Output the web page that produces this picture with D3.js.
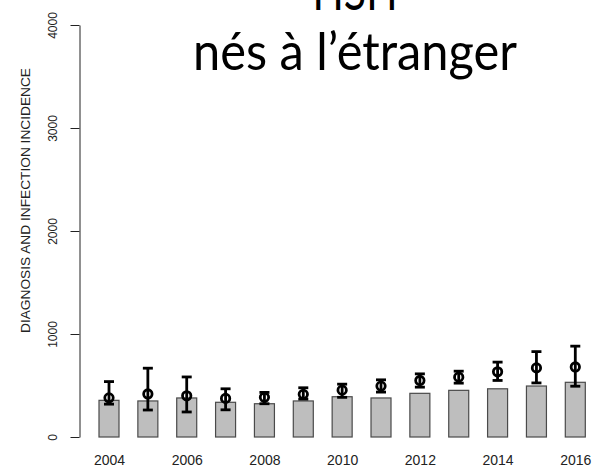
<!DOCTYPE html>
<html>
<head>
<meta charset="utf-8">
<script src="https://cdn.jsdelivr.net/npm/d3@7"></script>
<style>
  html, body { margin: 0; padding: 0; background: #fff; }
  svg { display: block; }
</style>
</head>
<body>
<svg id="chart" width="595" height="469"></svg>
<script>
const years = [2004, 2005, 2006, 2007, 2008, 2009, 2010, 2011, 2012, 2013, 2014, 2015, 2016];
const diagnoses = [356, 350, 379, 337, 323, 350, 391, 379, 424, 453, 468, 495, 531];
const incidence = [380, 418, 400, 375, 385, 414, 455, 494, 549, 581, 633, 671, 680];
const lower = [319, 262, 243, 264, 323, 368, 385, 436, 484, 523, 549, 525, 493];
const upper = [538, 668, 583, 468, 433, 478, 513, 555, 613, 639, 727, 829, 882];
const yTicks = [0, 1000, 2000, 3000, 4000];
const xTickLabels = [2004, 2006, 2008, 2010, 2012, 2014, 2016];
const titleLines = ["HSH", "nés à l’étranger"];
const yTitle = "DIAGNOSIS AND INFECTION INCIDENCE";

const svg = d3.select("#chart");
const x = d3.scaleLinear().domain([2004, 2016]).range([109, 575.3]);
const y = d3.scaleLinear().domain([0, 4000]).range([437, 25]);
const barW = 20;

// Bars
svg.append("g").selectAll("rect").data(years).join("rect")
  .attr("x", (d) => x(d) - barW / 2)
  .attr("width", barW)
  .attr("y", (d, i) => y(diagnoses[i]))
  .attr("height", (d, i) => y(0) - y(diagnoses[i]))
  .attr("fill", "#bebebe")
  .attr("stroke", "#4a4a4a")
  .attr("stroke-width", 1.2);

// Error bars
const eb = svg.append("g").attr("stroke", "#000").attr("stroke-width", 2.8).attr("fill", "none");
years.forEach((yr, i) => {
  const cx = x(yr);
  eb.append("line").attr("x1", cx).attr("x2", cx).attr("y1", y(lower[i])).attr("y2", y(upper[i]));
  eb.append("line").attr("x1", cx - 5).attr("x2", cx + 5).attr("y1", y(lower[i])).attr("y2", y(lower[i]));
  eb.append("line").attr("x1", cx - 5).attr("x2", cx + 5).attr("y1", y(upper[i])).attr("y2", y(upper[i]));
});
// Points
svg.append("g").selectAll("circle").data(years).join("circle")
  .attr("cx", (d) => x(d))
  .attr("cy", (d, i) => y(incidence[i]))
  .attr("r", 4.2)
  .attr("fill", "none")
  .attr("stroke", "#000")
  .attr("stroke-width", 2.8);

// Y axis
const yAxis = d3.axisLeft(y).tickValues(yTicks).tickSize(9).tickSizeOuter(0).tickFormat(d3.format("d"));
const yg = svg.append("g").attr("transform", "translate(79.5,0)").call(yAxis);
yg.select(".domain").attr("stroke", "#222").attr("stroke-width", 1);
yg.selectAll(".tick line").attr("stroke", "#222").attr("stroke-width", 1);
yg.selectAll(".tick text")
  .attr("font-family", "'Liberation Sans', Arial, sans-serif")
  .attr("font-size", 12)
  .attr("fill", "#222")
  .attr("x", null).attr("dy", null)
  .attr("text-anchor", "middle")
  .attr("transform", "translate(-23,0) rotate(-90)");

// X labels (no axis line)
const xAxis = d3.axisBottom(x).tickValues(xTickLabels).tickSize(0).tickFormat(d3.format("d"));
const xg = svg.append("g").attr("transform", "translate(0,455)").call(xAxis);
xg.select(".domain").remove();
xg.selectAll(".tick text")
  .attr("font-family", "'Liberation Sans', Arial, sans-serif")
  .attr("font-size", 14)
  .attr("fill", "#222")
  .attr("y", 0).attr("dy", "0.35em")
  .attr("transform", "translate(0,5.5)");

// Y title
svg.append("text")
  .attr("transform", "translate(29.5,200.5) rotate(-90)")
  .attr("text-anchor", "middle")
  .attr("font-family", "'Liberation Sans', Arial, sans-serif")
  .attr("font-size", 13)
  .attr("fill", "#222")
  .attr("textLength", 265)
  .attr("lengthAdjust", "spacingAndGlyphs")
  .text(yTitle);

// Title
const tl = [{ t: titleLines[0], yb: 10, w: 85 }, { t: titleLines[1], yb: 70, w: 324 }];
svg.append("g").selectAll("text").data(tl).join("text")
  .attr("x", 355)
  .attr("y", (d) => d.yb)
  .attr("text-anchor", "middle")
  .attr("font-family", "Lato, 'Open Sans', sans-serif")
  .attr("font-size", 53)
  .attr("fill", "#000")
  .attr("textLength", (d) => d.w)
  .attr("lengthAdjust", "spacingAndGlyphs")
  .text((d) => d.t);
</script>
</body>
</html>
